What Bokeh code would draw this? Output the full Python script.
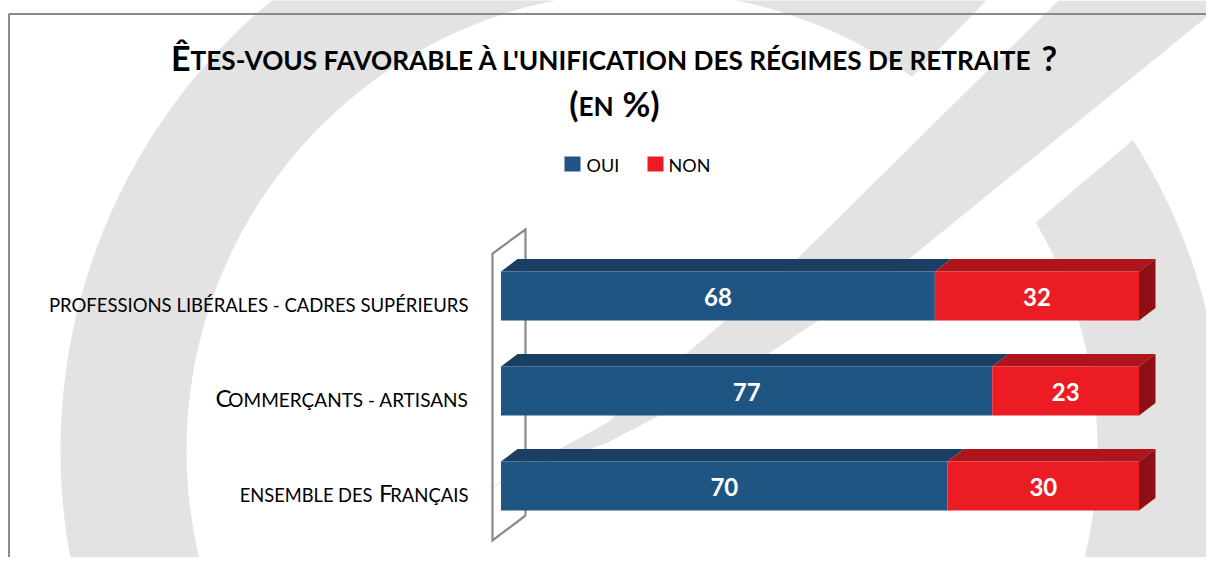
import numpy as np
from bokeh.plotting import figure
from bokeh.models import Range1d
from bokeh.core.properties import value
from bokeh.embed import file_html
from bokeh.resources import INLINE

# ---- data -------------------------------------------------------------
categories = ["ensemble des Français", "Commerçants - artisans", "professions libérales - cadres supérieurs"]
oui = [70, 77, 68]
non = [30, 23, 32]
series_names = ["OUI", "NON"]

# ---- palette ----------------------------------------------------------
BLUE, BLUE_TOP = "#1f5583", "#1a3f63"
RED, RED_TOP, RED_SIDE = "#ec1c24", "#ad141b", "#8f1014"
BAND = "#e3e3e3"
FRAME = "#8a8a8a"
FONT = "Lato"

W, H = 1206, 557
OX, OY = 0, 0
X0, XK = 500.5, 6.38     # screen x of value 0, screen px per percent
Y0, YK = 485.5, 95.0     # screen y of first category, px per category


def dx(sx):
    return (np.asarray(sx, dtype=float) - X0) / XK


def dy(sy):
    return (Y0 - np.asarray(sy, dtype=float)) / YK


p = figure(width=W, height=H, output_backend="svg", toolbar_location=None,
           x_range=Range1d(float(dx(OX)), float(dx(OX + W))),
           y_range=Range1d(float(dy(OY + H)), float(dy(OY))),
           min_border=0, outline_line_color=None, background_fill_color="white",
           border_fill_color="white", x_axis_location=None, y_axis_location=None)
p.grid.visible = False


def arc(cx, cy, r, a0, a1, n=120):
    t = np.radians(np.linspace(a0, a1, n))
    return cx + r * np.cos(t), cy + r * np.sin(t)


# ---- watermark shapes --------------------------------------------------
CX, CY = 645.0, 450.0
ox, oy = arc(CX, CY, 585, 155, 270)
ix, iy = arc(CX, CY, 459, 305.5, 155)
sx = np.concatenate([ox, [986], ix])
sy = np.concatenate([oy, [0], iy])
p.patch(dx(sx), dy(sy), fill_color=BAND, line_color=None)

band_x = [1058, 1214, 1214, 909, 818, 768, 659, 607, 490, 607, 686, 725, 797]
band_y = [0, 0, 10, 258, 320, 353, 415, 442, 487, 422, 353, 320, 258]
p.patch(dx(band_x), dy(band_y), fill_color=BAND, line_color=None)

ox, oy = arc(CX, CY, 578, -32.5, 20)
ix, iy = arc(CX, CY, 452, 15, -30.3)
sx = np.concatenate([ox, ix])
sy = np.concatenate([oy, iy])
p.patch(dx(sx), dy(sy), fill_color=BAND, line_color=None)

# ---- frame -------------------------------------------------------------
p.line(dx([8.5, 8.5, 1214]), dy([565, 13.5, 13.5]), line_color=FRAME, line_width=2)

# ---- 3D wall -----------------------------------------------------------
p.line(dx([525, 525, 492, 492, 525, 525]), dy([515, 229, 253, 540, 515, 515]),
       line_color=FRAME, line_width=2.2, line_join="miter")

# ---- bars --------------------------------------------------------------
DEPTH_X = 16.5 / XK
DEPTH_Y = 12.5 / YK
HALF = 24.5 / YK

for i, (a, b) in enumerate(zip(oui, non)):
    ya = i + HALF
    yb = i - HALF
    p.patch([0, DEPTH_X, a + DEPTH_X, a], [ya, ya + DEPTH_Y, ya + DEPTH_Y, ya], fill_color=BLUE_TOP, line_color=None)
    p.patch([a, a + DEPTH_X, a + b + DEPTH_X, a + b], [ya, ya + DEPTH_Y, ya + DEPTH_Y, ya], fill_color=RED_TOP, line_color=None)
    p.patch([a + b, a + b + DEPTH_X, a + b + DEPTH_X, a + b], [ya, ya + DEPTH_Y, yb + DEPTH_Y, yb], fill_color=RED_SIDE, line_color=None)

ys = list(range(len(categories)))
p.hbar(y=ys, left=0, right=oui, height=49 / YK, fill_color=BLUE, line_color=None)
p.hbar(y=ys, left=oui, right=[a + b for a, b in zip(oui, non)], height=49 / YK, fill_color=RED, line_color=None)


def text(sx, base, s, size, bold=False, color="#000000", align="left"):
    p.text([float(dx(sx))], [float(dy(base - 0.36 * size))], text=[s], text_font=value(FONT),
           text_font_size=f"{size}px", text_font_style="bold" if bold else "normal",
           text_color=color, text_align=align, text_baseline="middle")


# ---- value labels ------------------------------------------------------
for i, (a, b) in enumerate(zip(oui, non)):
    for left, v in ((0, a), (a, b)):
        p.text([left + v / 2], [i - 1 / YK], text=[str(v)], text_font=value(FONT), text_font_size="24px",
               text_font_style="bold", text_color="white", text_align="center", text_baseline="middle")

# ---- title (small caps made of two sizes) ------------------------------
text(190, 69, "Ê", 34, True, align="right")
text(190, 69, "TES-VOUS FAVORABLE À L'UNIFICATION DES RÉGIMES DE RETRAITE", 26.2, True)
text(1041, 69, "?", 34, True)
text(578, 115, "(", 34, True, align="right")
text(578, 115, "EN", 26.2, True)
text(622, 115, "%)", 34, True)

# ---- legend ------------------------------------------------------------
for (x0, name, col, tx) in ((564, series_names[0], BLUE, 586), (647, series_names[1], RED, 668)):
    p.quad(left=[float(dx(x0))], right=[float(dx(x0 + 16))], top=[float(dy(156))], bottom=[float(dy(171))],
           fill_color=col, line_color=None)
    text(tx, 171, name, 18)

# ---- category labels ---------------------------------------------------
text(468, 311, "PROFESSIONS LIBÉRALES - CADRES SUPÉRIEURS", 18.5, align="right")
text(468, 406, "OMMERÇANTS - ARTISANS", 19, align="right")
text(231, 406, "C", 24, align="right")
text(468, 501, "RANÇAIS", 18.5, align="right")
text(392, 501, "F", 24, align="right")
text(372, 501, "ENSEMBLE DES", 18.3, align="right")

open("out.html", "w").write(file_html(p, INLINE))
